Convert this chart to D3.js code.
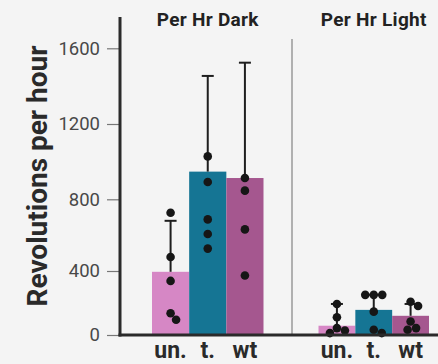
<!DOCTYPE html>
<html>
<head>
<meta charset="utf-8">
<script src="https://cdn.jsdelivr.net/npm/d3@7"></script>
<style>
  html, body { margin: 0; padding: 0; background: #f4f4f4; }
  svg { display: block; font-family: Roboto, sans-serif; }
</style>
</head>
<body>
<div id="chart"></div>
<script>
const width = 438;
const height = 364;

const panels = ['Per Hr Dark', 'Per Hr Light'];
const groups = ['un.', 't.', 'wt'];
const colors = ['#d687c5', '#157594', '#a5578f'];

// bar heights (means) and error bar tops, per panel
const darkMeans = [395, 947, 913];
const darkErrTop = [680, 1454, 1524];
const lightMeans = [58, 157, 120];
const lightErrTop = [194, 251, 194];

// individual points
const darkPoints = [
	[725, 478, 338, 136, 95],
	[1028, 892, 688, 606, 525],
	[913, 846, 632, 372]
];
const lightPoints = [
	[194, 111, 43, 28, 12],
	[251, 251, 251, 146, 33, 12],
	[208, 181, 84, 43, 33]
];

const yTicks = [0, 400, 800, 1200, 1600];

const svg = d3.select('#chart')
	.append('svg')
	.attr('width', width)
	.attr('height', height);

// the source axis is not evenly spaced, so map each tick to where it sits
const yScale = d3.scaleLinear()
	.domain([0, 400, 800, 1200, 1600, 1770])
	.range([335, 271, 199.3, 124, 48.3, 17]);

const panelX = [
	d3.scaleBand().domain(groups).range([152, 263.5]).padding(0),
	d3.scaleBand().domain(groups).range([318.5, 429]).padding(0)
];

const means = [darkMeans, lightMeans];
const errTops = [darkErrTop, lightErrTop];
const points = [darkPoints, lightPoints];

const r = 4.3;

// simple beeswarm: push overlapping dots sideways
function swarm(vals, cx) {
	const placed = [];
	vals.forEach(v => {
		const y = yScale(v);
		let best = 0;
		const offs = [0];
		for (let k = 1; k < 40; k++) { offs.push(k * 0.5, -k * 0.5); }
		for (const o of offs) {
			const ok = placed.every(p => Math.hypot(p.x - (cx + o), p.y - y) >= 2 * r - 0.3);
			if (ok) { best = o; break; }
		}
		placed.push({ x: cx + best, y: y });
	});
	return placed;
}

panels.forEach((title, pi) => {
	const x = panelX[pi];
	const g = svg.append('g');

	g.selectAll('rect')
		.data(groups)
		.join('rect')
		.attr('x', d => x(d))
		.attr('y', (d, i) => yScale(means[pi][i]))
		.attr('width', x.bandwidth())
		.attr('height', (d, i) => yScale(0) - yScale(means[pi][i]))
		.attr('fill', (d, i) => colors[i]);

	// error bars (upper only)
	groups.forEach((gName, i) => {
		const cx = x(gName) + x.bandwidth() / 2;
		g.append('line')
			.attr('x1', cx).attr('x2', cx)
			.attr('y1', yScale(means[pi][i]))
			.attr('y2', yScale(errTops[pi][i]))
			.attr('stroke', '#1e1e1e')
			.attr('stroke-width', 2);
		g.append('line')
			.attr('x1', cx - 6).attr('x2', cx + 6)
			.attr('y1', yScale(errTops[pi][i]))
			.attr('y2', yScale(errTops[pi][i]))
			.attr('stroke', '#1e1e1e')
			.attr('stroke-width', 2);

		g.selectAll(null)
			.data(swarm(points[pi][i], cx))
			.join('circle')
			.attr('cx', d => d.x)
			.attr('cy', d => d.y)
			.attr('r', r)
			.attr('fill', '#161616');
	});

	g.append('text')
		.attr('x', (x.range()[0] + x.range()[1]) / 2)
		.attr('y', 26)
		.attr('text-anchor', 'middle')
		.style('font-size', '19px')
		.style('font-weight', 'bold')
		.style('letter-spacing', '0.3px')
		.attr('fill', '#222')
		.text(title);

	g.selectAll('.xlab')
		.data(groups)
		.join('text')
		.attr('class', 'xlab')
		.attr('x', d => x(d) + x.bandwidth() / 2)
		.attr('y', 358)
		.attr('text-anchor', 'middle')
		.style('font-size', '23px')
		.style('font-weight', 'bold')
		.attr('fill', '#2a2a2a')
		.text(d => d);
});

// divider between panels
svg.append('line')
	.attr('x1', 292).attr('x2', 292)
	.attr('y1', 39).attr('y2', yScale(0))
	.attr('stroke', '#9a9a9a')
	.attr('stroke-width', 1.5);

// y axis
const yAxis = svg.append('g')
	.attr('transform', 'translate(120,0)')
	.call(d3.axisLeft(yScale).tickValues(yTicks).tickFormat(d3.format('d')).tickSize(13).tickPadding(7));
yAxis.select('.domain').remove();
yAxis.selectAll('.tick line').attr('stroke', '#777').attr('stroke-width', 1.2);
yAxis.selectAll('.tick text')
	.attr('fill', '#484848')
	.style('font-size', '18.5px')
	.style('font-family', 'Roboto, sans-serif');

svg.append('line')
	.attr('x1', 120).attr('x2', 120)
	.attr('y1', 17).attr('y2', yScale(0) + 1.5)
	.attr('stroke', '#2a2a2a')
	.attr('stroke-width', 3);

svg.append('line')
	.attr('x1', 118.5).attr('x2', width)
	.attr('y1', yScale(0)).attr('y2', yScale(0))
	.attr('stroke', '#2a2a2a')
	.attr('stroke-width', 3);

svg.append('text')
	.attr('transform', 'translate(47,176) rotate(-90)')
	.attr('text-anchor', 'middle')
	.style('font-size', '28px')
	.style('font-weight', 'bold')
	.attr('fill', '#2a2a2a')
	.text('Revolutions per hour');
</script>
</body>
</html>
